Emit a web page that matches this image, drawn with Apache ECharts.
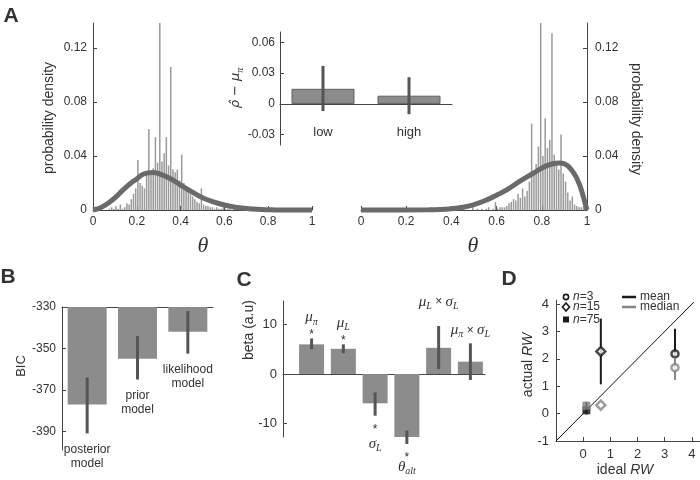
<!DOCTYPE html>
<html><head><meta charset="utf-8">
<script src="https://cdn.jsdelivr.net/npm/echarts@6/dist/echarts.min.js"></script>
<style>html,body{margin:0;padding:0;background:#fff}#c{width:700px;height:480px}</style>
</head><body><div id="c"></div>
<script>
// ---------------- DATA ----------------
// Panel A: histograms (bin centre, density)
const histLeftTheta = [0.075,0.085,0.095,0.105,0.115,0.125,0.135,0.145,0.155,0.165,0.175,0.185,0.195,0.205,0.215,0.225,0.235,0.245,0.255,0.265,0.275,0.285,0.295,0.305,0.315,0.325,0.335,0.345,0.355,0.365,0.375,0.385,0.395,0.405,0.415,0.425,0.435,0.445,0.455,0.465,0.475,0.485,0.495,0.505,0.515,0.525,0.535,0.545,0.555,0.565,0.575,0.585,0.595,0.605,0.615,0.625,0.645,0.655];
const histLeftDensity = [0.001,0.002,0.001,0.003,0.001,0.004,0.001,0.002,0.005,0.004,0.008,0.012,0.016,0.037,0.020,0.018,0.016,0.026,0.060,0.028,0.031,0.054,0.035,0.1385,0.036,0.042,0.054,0.033,0.106,0.030,0.028,0.030,0.022,0.041,0.020,0.017,0.014,0.012,0.010,0.008,0.006,0.005,0.016,0.004,0.003,0.003,0.002,0.002,0.001,0.002,0.001,0.001,0.002,0.001,0.001,0.001,0.001,0.001];
const histRightTheta = [0.405,0.455,0.495,0.515,0.535,0.555,0.565,0.585,0.595,0.605,0.615,0.625,0.635,0.645,0.655,0.665,0.675,0.685,0.695,0.705,0.715,0.725,0.735,0.745,0.755,0.765,0.775,0.785,0.795,0.805,0.815,0.825,0.835,0.845,0.855,0.865,0.875,0.885,0.895,0.905,0.915,0.925,0.935,0.945,0.955,0.965,0.975,0.985,0.995];
const histRightDensity = [0.001,0.001,0.004,0.001,0.001,0.001,0.002,0.001,0.006,0.001,0.002,0.002,0.002,0.003,0.005,0.006,0.008,0.007,0.012,0.009,0.016,0.010,0.014,0.021,0.064,0.026,0.034,0.047,0.1385,0.040,0.068,0.046,0.052,0.131,0.041,0.036,0.030,0.056,0.027,0.021,0.013,0.007,0.010,0.004,0.003,0.002,0.002,0.003,0.001];
// fitted density curves
const curveLeftTheta = [0,0.025,0.05,0.075,0.1,0.125,0.15,0.175,0.2,0.225,0.25,0.275,0.3,0.35,0.4,0.45,0.5,0.55,0.6,0.65,0.7,0.75,0.8,0.85,0.9,1];
const curveLeftDensity = [0,0.001,0.003,0.0058,0.009,0.013,0.0168,0.0202,0.023,0.0262,0.0275,0.0278,0.027,0.0235,0.0185,0.0136,0.009,0.006,0.0037,0.002,0.0011,0.0005,0.0002,0,0,0];
const curveRightTheta = [0,0.3,0.35,0.4,0.45,0.5,0.55,0.6,0.65,0.7,0.75,0.8,0.825,0.85,0.875,0.9,0.925,0.95,0.96,0.97,0.98,0.99,1];
const curveRightDensity = [0,0.0001,0.0003,0.0009,0.002,0.004,0.007,0.011,0.0155,0.021,0.026,0.031,0.033,0.0343,0.0348,0.0342,0.031,0.025,0.0215,0.0175,0.012,0.006,0];
const thetaTicks = [0,0.2,0.4,0.6,0.8,1];
const densityTicks = [0,0.04,0.08,0.12];
// inset
const insetCategories = ['low','high'];
const insetValues = [0.0147,0.008];
const insetErrLow = [-0.007,-0.010];
const insetErrHigh = [0.037,0.026];
const insetTicks = [-0.03,0,0.03,0.06];
// Panel B
const bicCategories = ['posterior\nmodel','prior\nmodel','likelihood\nmodel'];
const bicValues = [-377,-355,-342];
const bicErrLow = [-391,-365,-352.5];
const bicErrHigh = [-364,-344,-332];
const bicTicks = [-390,-370,-350,-330];
// Panel C
const betaLabels = ['{g|μ}{s|π}','{g|μ}{s|L}','{g|σ}{s|L}','{g|θ}{s|alt}','{g|μ}{s|L}{x| × }{g|σ}{s|L}','{g|μ}{s|π}{x| × }{g|σ}{s|L}'];
const betaPositions = [1,2,3,4,5,6];
const betaValues = [6.0,5.1,-5.9,-12.8,5.3,2.5];
const betaErrLow = [5.0,4.2,-8.4,-14.1,1.0,-1.2];
const betaErrHigh = [7.2,6.0,-3.7,-11.4,9.7,6.2];
const betaSignificant = [true,true,true,true,false,false];
const betaTicks = [-10,0,10];
// Panel D
const rwGroups = ['3','15','75'];
const rwIdeal = [3.38,0.65,0.12];
const rwMean = [2.18,2.27,0.12];
const rwMeanLow = [1.25,1.07,-0.03];
const rwMeanHigh = [3.1,3.47,0.43];
const rwMedian = [1.68,0.31,0.29];
const rwMedianLow = [1.25,null,null];
const rwMedianHigh = [2.05,null,null];
const identityLine = [-1,4.07];
const rwXTicks = [0,1,2,3,4];
const rwYTicks = [-1,0,1,2,3,4];

// ---------------- STYLE ----------------
const FONT = '"Liberation Sans", Arial, sans-serif';
const SERIF = '"Liberation Serif", "DejaVu Serif", serif';
const AX = '#444', TX = '#333', BAR = '#8c8c8c', ERR = '#555';
const BLACK = '#1a1a1a', GRAY = '#858585';
const rwSymbols = ['circle','diamond','rect'];
const rwSizes = [7,9,7];
const betaLabelGap = [21,21,28,23,24,13];

function merge(a, b) {
  for (const k in b) {
    if (b[k] && typeof b[k] === 'object' && !Array.isArray(b[k]) && a[k] && typeof a[k] === 'object') merge(a[k], b[k]);
    else a[k] = b[k];
  }
  return a;
}
function vAxis(gridIndex, min, max, ticks, extra) {
  const a = {
    gridIndex, type:'value', min, max, splitLine:{show:false},
    axisLine:{show:true, onZero:false, lineStyle:{color:AX, width:1}},
    axisTick:{show:true, inside:true, length:4, lineStyle:{color:AX}},
    axisLabel:{show:true, color:TX, fontSize:12, fontFamily:FONT, margin:6},
  };
  if (ticks) { a.axisTick.customValues = ticks; a.axisLabel.customValues = ticks; }
  return merge(a, extra || {});
}
const RICH = {
  g:{fontFamily:SERIF, fontStyle:'italic', fontSize:15, lineHeight:19, verticalAlign:'middle', fill:TX, color:TX},
  s:{fontFamily:SERIF, fontStyle:'italic', fontSize:10, lineHeight:10, verticalAlign:'bottom', fill:TX, color:TX},
  x:{fontFamily:FONT, fontSize:12, lineHeight:19, verticalAlign:'middle', fill:TX, color:TX},
  h:{fontFamily:'"DejaVu Sans", sans-serif', fontStyle:'italic', fontSize:13, lineHeight:18, verticalAlign:'middle', fill:TX, color:TX},
  i:{fontFamily:FONT, fontStyle:'italic', fontSize:14, fill:TX, color:TX},
  n:{fontFamily:FONT, fontSize:14, fill:TX, color:TX}
};

function errLine(color, width) {
  return function (params, api) {
    const x = api.value(0), lo = api.value(1), hi = api.value(2);
    if (lo === null || hi === null || isNaN(lo) || isNaN(hi)) return null;
    const p1 = api.coord([x, lo]), p2 = api.coord([x, hi]);
    return {type:'line', shape:{x1:p1[0], y1:p1[1], x2:p2[0], y2:p2[1]}, style:{stroke:color, lineWidth:width}};
  };
}

function txt(x, y, text, font, rot, extra) {
  return merge({type:'text', x, y, rotation: rot || 0, z: 100,
    style:{text, font, fill:TX, align:'center', verticalAlign:'middle', textAlign:'center', textVerticalAlign:'middle'}}, extra || {});
}

const grids = [
  {left:93, top:23, width:219, height:187},
  {left:361, top:23, width:226, height:187},
  {left:280, top:32, width:172, height:113},
  {left:62, top:307, width:151, height:143},
  {left:283, top:301, width:202, height:136},
  {left:556, top:300, width:144, height:141}
].map(g => Object.assign({outerBoundsMode:'none', containLabel:false}, g));

const xAxes = [
  vAxis(0, 0, 1, thetaTicks),
  vAxis(1, 0, 1, thetaTicks),
  {gridIndex:2, type:'category', data:insetCategories, axisLine:{show:true, onZero:true, lineStyle:{color:AX}}, axisTick:{show:false}, axisLabel:{show:false}},
  {gridIndex:3, type:'category', data:bicCategories, position:'top', axisLine:{show:true, onZero:false, lineStyle:{color:AX}}, axisTick:{show:false}, axisLabel:{show:false}},
  vAxis(4, 0.1, 6.46, null, {axisLine:{onZero:true}, axisTick:{show:false}, axisLabel:{show:false}}),
  vAxis(5, -1, 4.3, rwXTicks, {axisLabel:{fontSize:13, margin:7}})
];
const yAxes = [
  vAxis(0, 0, 0.1385, densityTicks),
  vAxis(1, 0, 0.1385, densityTicks, {position:'right', axisLabel:{margin:8}}),
  vAxis(2, -0.04, 0.07, insetTicks, {axisLabel:{margin:5}}),
  vAxis(3, -399, -330, bicTicks),
  vAxis(4, -12.7, 14.75, betaTicks, {axisLabel:{fontSize:13}}),
  vAxis(5, -1, 4.15, rwYTicks, {axisLabel:{fontSize:13, margin:7}})
];

const series = [
  {type:'bar', xAxisIndex:0, yAxisIndex:0, barWidth:1.5, itemStyle:{color:'#9a9a9a'}, z:2,
    data: histLeftTheta.map((t,i)=>[t, histLeftDensity[i]])},
  {type:'line', xAxisIndex:0, yAxisIndex:0, smooth:0.35, symbol:'none', clip:false, z:3,
    lineStyle:{color:'#6a6a6a', width:5}, data: curveLeftTheta.map((t,i)=>[t, curveLeftDensity[i]])},
  {type:'bar', xAxisIndex:1, yAxisIndex:1, barWidth:1.5, itemStyle:{color:'#9a9a9a'}, z:2,
    data: histRightTheta.map((t,i)=>[t, histRightDensity[i]])},
  {type:'line', xAxisIndex:1, yAxisIndex:1, smooth:0.35, symbol:'none', clip:false, z:3,
    lineStyle:{color:'#6a6a6a', width:5}, data: curveRightTheta.map((t,i)=>[t, curveRightDensity[i]])},
  // inset
  {type:'bar', xAxisIndex:2, yAxisIndex:2, barWidth:63, z:5,
    itemStyle:{color:BAR, borderColor:'#606060', borderWidth:1}, data: insetValues},
  {type:'custom', xAxisIndex:2, yAxisIndex:2, z:6, clip:false, encode:{x:0, y:[1,2]},
    data: insetCategories.map((c,i)=>[i, insetErrLow[i], insetErrHigh[i]]),
    renderItem(params, api) {
      const i = params.dataIndex;
      const p1 = api.coord([i, api.value(1)]), p2 = api.coord([i, api.value(2)]);
      const p0 = api.coord([i, 0]);
      return {type:'group', children:[
        {type:'line', shape:{x1:p1[0], y1:p1[1], x2:p2[0], y2:p2[1]}, style:{stroke:ERR, lineWidth:3}},
        {type:'text', x:p0[0], y:p0[1] + 29, style:{text:insetCategories[i], font:'13px ' + FONT, fill:TX,
          align:'center', verticalAlign:'middle'}}
      ]};
    }},
  // B
  {type:'bar', xAxisIndex:3, yAxisIndex:3, barWidth:39, clip:true, z:2, itemStyle:{color:BAR}, data: bicValues},
  {type:'custom', xAxisIndex:3, yAxisIndex:3, z:3, clip:false, encode:{x:0, y:[1,2]},
    data: bicCategories.map((c,i)=>[i, bicErrLow[i], bicErrHigh[i]]),
    renderItem(params, api) {
      const i = params.dataIndex;
      const p1 = api.coord([i, api.value(1)]), p2 = api.coord([i, api.value(2)]);
      return {type:'group', children:[
        {type:'line', shape:{x1:p1[0], y1:p1[1], x2:p2[0], y2:p2[1]}, style:{stroke:ERR, lineWidth:3}},
        {type:'text', x:p1[0], y:p1[1] + 9, style:{text:bicCategories[i], font:'12px ' + FONT, fill:TX,
          align:'center', verticalAlign:'top', lineHeight:14}}
      ]};
    }},
  // C
  {type:'bar', xAxisIndex:4, yAxisIndex:4, barWidth:25, z:2, itemStyle:{color:BAR},
    data: betaPositions.map((x,i)=>[x, betaValues[i]])},
  {type:'custom', xAxisIndex:4, yAxisIndex:4, z:3, clip:false, encode:{x:0, y:[1,2]},
    data: betaPositions.map((x,i)=>[x, betaErrLow[i], betaErrHigh[i]]),
    renderItem(params, api) {
      const i = params.dataIndex;
      const x = api.value(0);
      const pLo = api.coord([x, api.value(1)]), pHi = api.coord([x, api.value(2)]);
      const positive = betaValues[i] >= 0;
      const anchor = positive ? pHi : pLo;
      const dir = positive ? -1 : 1;
      const ch = [{type:'line', shape:{x1:pLo[0], y1:pLo[1], x2:pHi[0], y2:pHi[1]}, style:{stroke:ERR, lineWidth:3}}];
      if (betaSignificant[i]) ch.push({type:'text', x:anchor[0], y:anchor[1] + (positive ? -4 : 14),
        style:{text:'*', font:'12px ' + FONT, fill:TX, align:'center', verticalAlign:'middle'}});
      ch.push({type:'text', x:anchor[0], y:anchor[1] + dir * betaLabelGap[i],
        style:{text:betaLabels[i], rich:RICH, fill:TX, align:'center', verticalAlign:'middle'}});
      return {type:'group', children:ch};
    }},
  // D
  {type:'line', xAxisIndex:5, yAxisIndex:5, symbol:'none', z:1, lineStyle:{color:'#111', width:1},
    data: identityLine.map(v=>[v, v])},
  {type:'custom', xAxisIndex:5, yAxisIndex:5, z:3, clip:false, encode:{x:0, y:[1,2]},
    renderItem: errLine(BLACK, 2), data: rwIdeal.map((x,i)=>[x, rwMeanLow[i], rwMeanHigh[i]])},
  {type:'scatter', xAxisIndex:5, yAxisIndex:5, z:4,
    data: rwIdeal.map((x,i)=>({value:[x, rwMean[i]], symbol:rwSymbols[i], symbolSize:rwSizes[i],
      itemStyle:{color: rwSymbols[i]==='rect' ? BLACK : '#fff', borderColor:BLACK, borderWidth: rwSymbols[i]==='rect' ? 1 : 2.5}}))},
  {type:'custom', xAxisIndex:5, yAxisIndex:5, z:5, clip:false, encode:{x:0, y:[1,2]},
    renderItem: errLine(GRAY, 2), data: rwIdeal.map((x,i)=>[x, rwMedianLow[i], rwMedianHigh[i]]).filter(d=>d[1]!==null)},
  {type:'scatter', xAxisIndex:5, yAxisIndex:5, z:6,
    data: rwIdeal.map((x,i)=>({value:[x, rwMedian[i]], symbol:rwSymbols[i], symbolSize:rwSizes[i],
      itemStyle:{color: rwSymbols[i]==='rect' ? GRAY : '#fff', borderColor:GRAY, borderWidth: rwSymbols[i]==='rect' ? 1 : 2.5}}))}
];

const PI2 = Math.PI / 2;
const graphic = [
  txt(11, 16, 'A', 'bold 21px ' + FONT),
  txt(8, 277, 'B', 'bold 21px ' + FONT),
  txt(244, 280, 'C', 'bold 21px ' + FONT),
  txt(509, 279, 'D', 'bold 21px ' + FONT),
  txt(203, 246, 'θ', 'italic 22px ' + SERIF),
  txt(473, 246, 'θ', 'italic 22px ' + SERIF),
  txt(49, 118, 'probability density', '14px ' + FONT, PI2),
  txt(636, 119, 'probability density', '14px ' + FONT, -PI2),
  txt(236, 88, '{h|ρ̂ − μ}{s|π}', '13px ' + FONT, PI2, {style:{rich:RICH}}),
  txt(21, 366, 'BIC', '13px ' + FONT, PI2),
  txt(249, 330, 'beta (a.u)', '14px ' + FONT, PI2),
  txt(528, 365, '{n|actual }{i|RW}', '14px ' + FONT, PI2, {style:{rich:RICH}}),
  txt(625, 470, '{n|ideal }{i|RW}', '14px ' + FONT, 0, {style:{rich:RICH}}),
  // legend (D)
  {type:'circle', z:100, shape:{cx:566, cy:297, r:2.6}, style:{fill:'#fff', stroke:BLACK, lineWidth:1.6}},
  {type:'polygon', z:100, shape:{points:[[566,303],[569.5,307],[566,311],[562.5,307]]}, style:{fill:'#fff', stroke:BLACK, lineWidth:1.6}},
  {type:'rect', z:100, shape:{x:563, y:316.5, width:6, height:6}, style:{fill:BLACK}},
  {type:'line', z:100, shape:{x1:622, y1:297, x2:636, y2:297}, style:{stroke:BLACK, lineWidth:2.5}},
  {type:'line', z:100, shape:{x1:622, y1:307, x2:636, y2:307}, style:{stroke:GRAY, lineWidth:2.5}},
  txt(640, 297, 'mean', '12px ' + FONT, 0, {style:{align:'left', textAlign:'left'}}),
  txt(640, 307, 'median', '12px ' + FONT, 0, {style:{align:'left', textAlign:'left'}})
];
rwGroups.forEach((g, i) => {
  graphic.push(txt(573, [297, 307, 320][i], '{a|n}{b|=' + g + '}', '12px ' + FONT, 0,
    {style:{align:'left', textAlign:'left', rich:{a:{fontStyle:'italic', fontSize:12, fontFamily:FONT, fill:TX}, b:{fontSize:12, fontFamily:FONT, fill:TX}}}}));
});

const chart = echarts.init(document.getElementById('c'), null, {renderer:'canvas'});
chart.setOption({
  animation:false, backgroundColor:'#fff',
  textStyle:{fontFamily:FONT},
  grid: grids, xAxis: xAxes, yAxis: yAxes, series, graphic
});
</script></body></html>
